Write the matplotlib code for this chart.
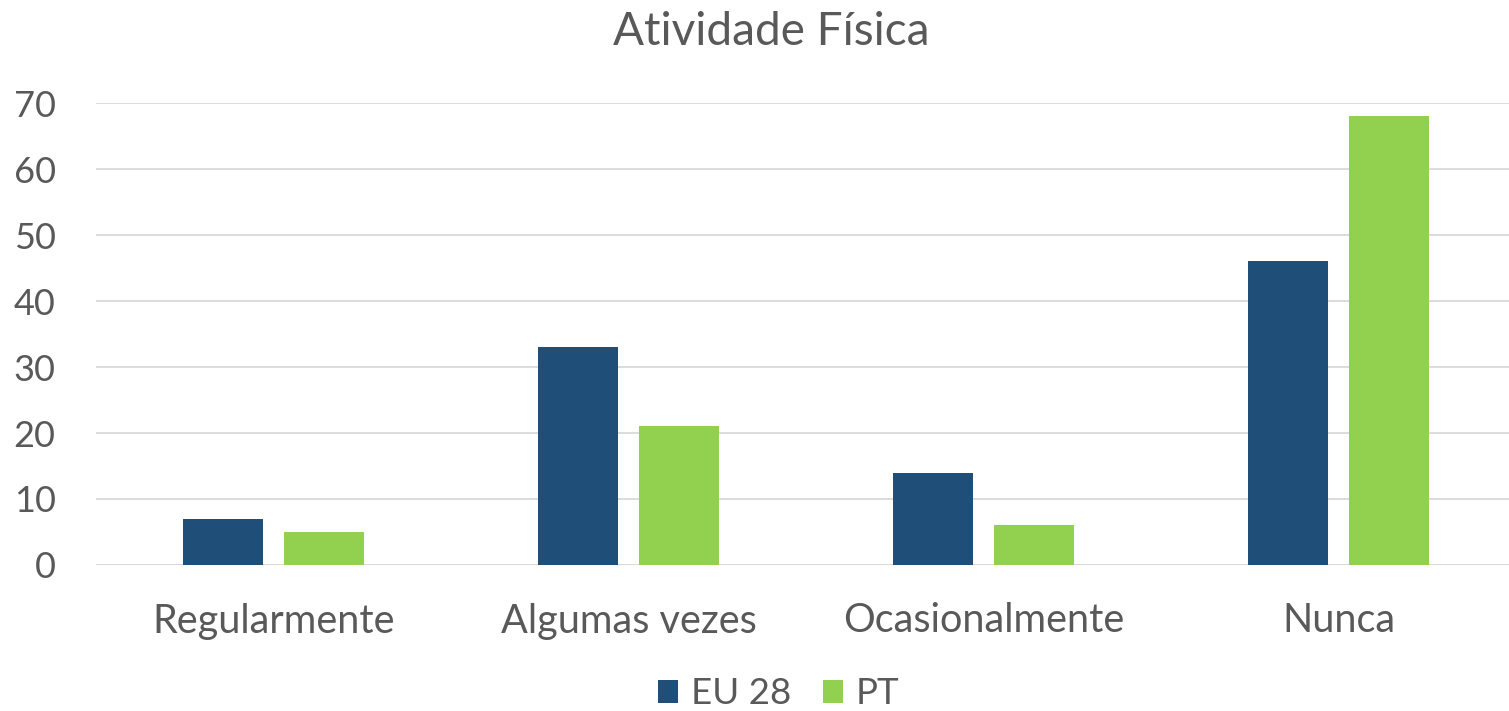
import matplotlib
matplotlib.use("Agg")
import matplotlib.pyplot as plt
import numpy as np

categories = ["Regularmente", "Algumas vezes", "Ocasionalmente", "Nunca"]
eu28 = [7, 33, 14, 46]
pt = [5, 21, 6, 68]
series_names = ["EU 28", "PT"]
yticks = [0, 10, 20, 30, 40, 50, 60, 70]

plt.rcParams['font.family'] = ['Lato', 'DejaVu Sans']
txt = '#595959'

fig = plt.figure(figsize=(15.09, 7.11), dpi=100)
ax = fig.add_axes([96 / 1509, 146 / 711, 1420 / 1509, 462 / 711])

x = np.arange(len(categories))
w = 80 / 355
gap = 21 / 355
ax.bar(x - (w + gap) / 2, eu28, w, color='#1F4E79', label=series_names[0], zorder=3)
ax.bar(x + (w + gap) / 2, pt, w, color='#92D050', label=series_names[1], zorder=3)

ax.set_xlim(-0.5, len(categories) - 0.5)
ax.set_ylim(0, 70)
ax.set_yticks(yticks)
ax.set_xticks(x)
ax.set_xticklabels(categories)
ax.grid(axis='y', color='#D9D9D9', linewidth=1.3, zorder=0)
for s in ax.spines.values():
    s.set_visible(False)
ax.tick_params(axis='y', length=0, labelsize=26, colors=txt, pad=29)
ax.tick_params(axis='x', length=0, labelsize=28.5, colors=txt, pad=27)
ax.axhline(0, color='#D9D9D9', linewidth=1.3, zorder=2)

fig.text(0.511, 0.955, "Atividade Física", ha='center', va='center', fontsize=33, color=txt)
leg = fig.legend(loc='center', bbox_to_anchor=(0.516, 0.024), ncol=2, frameon=False,
                 fontsize=26.5, labelcolor=txt, handlelength=0.55, handleheight=0.55,
                 handletextpad=0.35, columnspacing=0.87)

fig.savefig("out.png", dpi=100)
